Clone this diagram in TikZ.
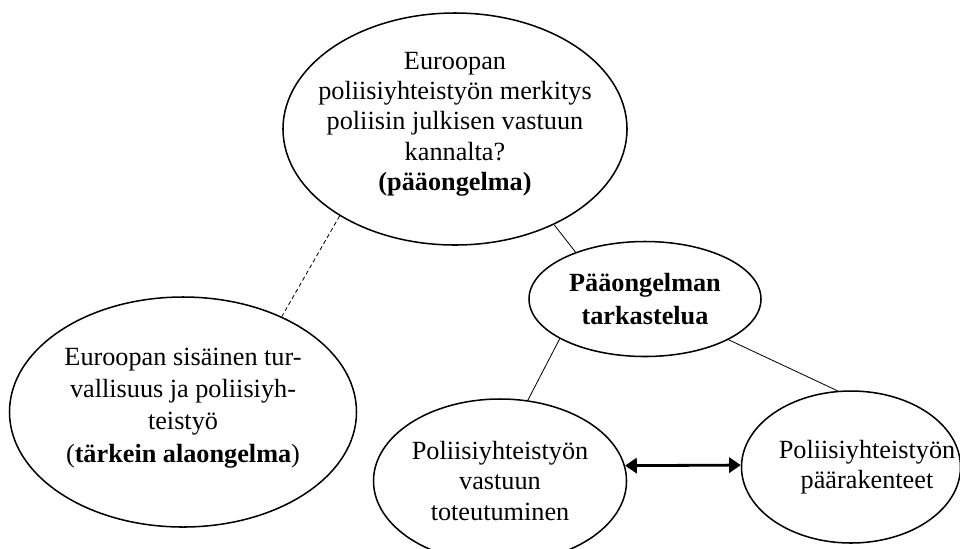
\documentclass[tikz,border=0pt]{standalone}
\usepackage{fontspec}
\setmainfont{Liberation Serif}
\usetikzlibrary{shapes.geometric,arrows.meta}
\tikzset{
  bubble/.style={ellipse,draw,line width=1.3pt,align=center,inner sep=-4cm,
    font=\fontsize{22.4}{25.8}\selectfont},
  link/.style={line width=0.7pt},
}
\begin{document}
\begin{tikzpicture}[x=0.03cm,y=-0.03cm,>={Triangle[length=10pt,width=13pt]}]
  \useasboundingbox (0,0) rectangle (960,548);
  \clip (0,0) rectangle (960,548);
  % kuplat
  \node[bubble,minimum width=10.32cm,minimum height=6.96cm,text depth=13pt] (main) at (455,129)
    {Euroopan\\poliisiyhteistyön merkitys\\poliisin julkisen vastuun\\kannalta?\\\textbf{(pääongelma)}};
  \node[bubble,minimum width=10.41cm,minimum height=6.9cm,text depth=12pt,
    font=\fontsize{22.4}{27.6}\selectfont] (sub) at (183,412)
    {Euroopan sisäinen tur-\\vallisuus ja poliisiyh-\\teistyö\\(\textbf{tärkein alaongelma})};
  \node[bubble,minimum width=6.96cm,minimum height=3.45cm,
    font=\fontsize{22.4}{28}\selectfont\bfseries] (review) at (645,299)
    {Pääongelman\\tarkastelua};
  \node[bubble,minimum width=7.59cm,minimum height=4.92cm] (duty) at (500,481)
    {Poliisiyhteistyön\\vastuun\\toteutuminen};
  \node[bubble,minimum width=6.57cm,minimum height=4.56cm] (struct) at (851,467)
    {\hspace*{0.96cm}Poliisiyhteistyön\\\hspace*{0.96cm}päärakenteet};
  % yhteydet
  \draw[link,dash pattern=on 3.5pt off 2.5pt] (main.-143) -- (sub.44);
  \draw[link] (main.-44) -- (review.146);
  \draw[link] (review.-155) -- (duty.71);
  \draw[link] (review.-26) -- (struct.100);
  \draw[<->,line width=2.4pt] (duty.7) -- (struct.179);
\end{tikzpicture}
\end{document}
